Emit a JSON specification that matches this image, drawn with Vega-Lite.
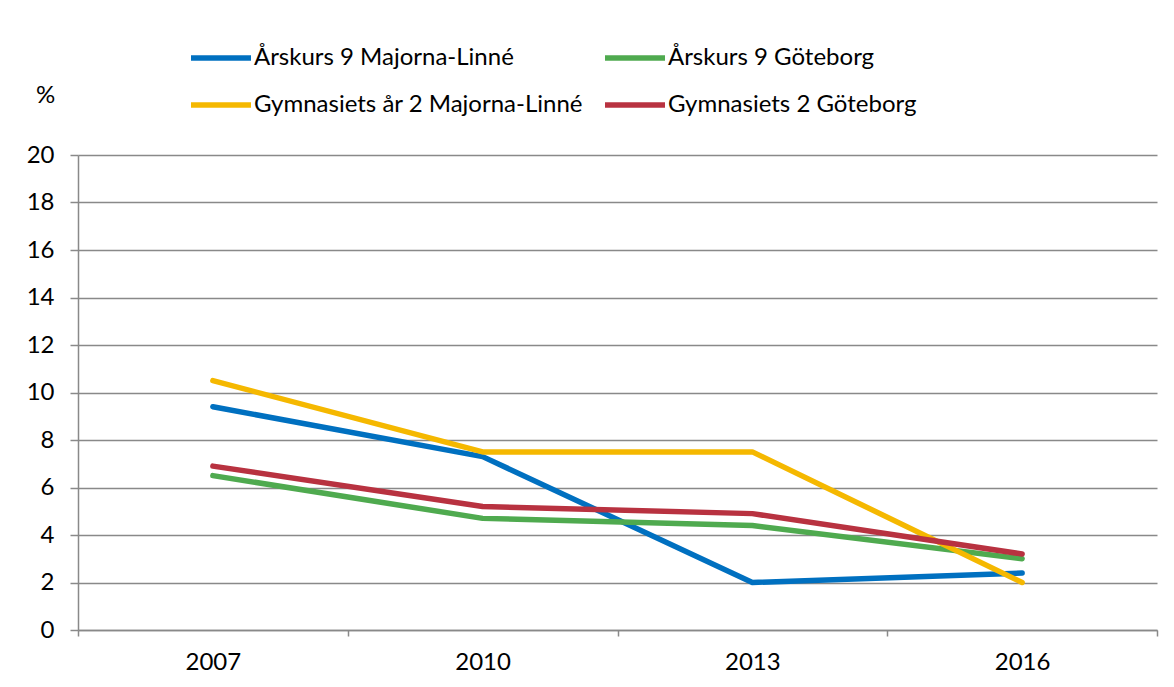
{
  "$schema": "https://vega.github.io/schema/vega-lite/v6.json",
  "autosize": {"type": "none"},
  "width": 1079,
  "height": 475,
  "padding": {"left": 78, "top": 155, "right": 17, "bottom": 57},
  "background": "white",
  "config": {
    "font": "Lato",
    "view": {"stroke": null},
    "axis": {"labelFont": "Lato", "labelFontSize": 24, "labelColor": "#000000", "titleFont": "Lato", "titleFontWeight": "normal", "titleColor": "#000000"},
    "legend": {"labelFont": "Lato", "labelFontSize": 24, "labelColor": "#000000"}
  },
  "data": {
    "values": [
      {"year": "2007", "series": "Årskurs 9 Majorna-Linné", "value": 9.4},
      {"year": "2010", "series": "Årskurs 9 Majorna-Linné", "value": 7.3},
      {"year": "2013", "series": "Årskurs 9 Majorna-Linné", "value": 2.0},
      {"year": "2016", "series": "Årskurs 9 Majorna-Linné", "value": 2.4},
      {"year": "2007", "series": "Årskurs 9 Göteborg", "value": 6.5},
      {"year": "2010", "series": "Årskurs 9 Göteborg", "value": 4.7},
      {"year": "2013", "series": "Årskurs 9 Göteborg", "value": 4.4},
      {"year": "2016", "series": "Årskurs 9 Göteborg", "value": 3.0},
      {"year": "2007", "series": "Gymnasiets år 2 Majorna-Linné", "value": 10.5},
      {"year": "2010", "series": "Gymnasiets år 2 Majorna-Linné", "value": 7.5},
      {"year": "2013", "series": "Gymnasiets år 2 Majorna-Linné", "value": 7.5},
      {"year": "2016", "series": "Gymnasiets år 2 Majorna-Linné", "value": 2.0},
      {"year": "2007", "series": "Gymnasiets 2 Göteborg", "value": 6.9},
      {"year": "2010", "series": "Gymnasiets 2 Göteborg", "value": 5.2},
      {"year": "2013", "series": "Gymnasiets 2 Göteborg", "value": 4.9},
      {"year": "2016", "series": "Gymnasiets 2 Göteborg", "value": 3.2}
    ]
  },
  "mark": {"type": "line", "strokeWidth": 5.5, "strokeCap": "round", "strokeJoin": "round"},
  "encoding": {
    "x": {
      "field": "year",
      "type": "ordinal",
      "bandPosition": 0.5,
      "scale": {"type": "band", "paddingInner": 0, "paddingOuter": 0},
      "axis": {
        "title": null,
        "labelAngle": 0,
        "tickBand": "extent",
        "domainColor": "#898989",
        "domainWidth": 1.5,
        "tickColor": "#898989",
        "tickWidth": 1.5,
        "tickSize": 6,
        "labelPadding": 14,
        "grid": false
      }
    },
    "y": {
      "field": "value",
      "type": "quantitative",
      "scale": {"domain": [0, 20], "nice": false},
      "axis": {
        "values": [0, 2, 4, 6, 8, 10, 12, 14, 16, 18, 20],
        "title": "%",
        "titleAngle": 0,
        "titleFontSize": 24,
        "titleX": -33,
        "titleY": -60,
        "titleAlign": "center",
        "titleBaseline": "middle",
        "grid": true,
        "gridColor": "#898989",
        "gridWidth": 1.5,
        "domainColor": "#898989",
        "domainWidth": 1.5,
        "tickColor": "#898989",
        "tickWidth": 1.5,
        "tickSize": 8,
        "labelPadding": 16
      }
    },
    "color": {
      "field": "series",
      "type": "nominal",
      "scale": {
        "domain": ["Årskurs 9 Majorna-Linné", "Årskurs 9 Göteborg", "Gymnasiets år 2 Majorna-Linné", "Gymnasiets 2 Göteborg"],
        "range": ["#0070C0", "#4FAA4F", "#F5B800", "#B83240"]
      },
      "legend": {
        "title": null,
        "orient": "none",
        "direction": "horizontal",
        "legendX": 110,
        "legendY": -130,
        "columns": 2,
        "symbolType": "stroke",
        "symbolSize": 3600,
        "symbolStrokeWidth": 5.5,
        "labelOffset": 0,
        "columnPadding": 11,
        "rowPadding": 2,
        "labelLimit": 500
      }
    }
  }
}
